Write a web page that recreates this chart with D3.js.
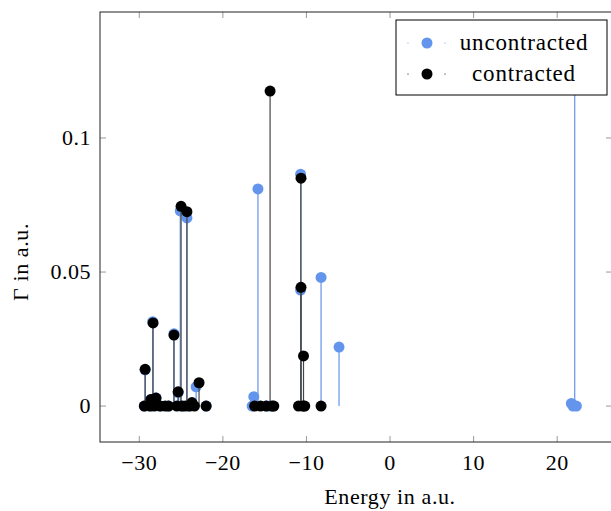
<!DOCTYPE html>
<html>
<head>
<meta charset="utf-8">
<script src="https://cdn.jsdelivr.net/npm/d3@7"></script>
<style>
  body { margin: 0; background: #fff; }
  text { font-family: "Liberation Serif", "DejaVu Serif", serif; fill: #000; }
</style>
</head>
<body>
<svg id="chart" width="611" height="511"></svg>
<script>
// uncontracted resonances: energy, width
var uncEnergy = [-29.3, -28.4, -28.6, -28.0, -29.4, -28.7, -27.5, -26.5, -25.85, -25.35, -25.1, -24.3, -23.7, -23.2, -24.9, -24.0, -22.0,
                 -16.5, -16.3, -15.8, -14.8, -14.3,
                 -10.7, -10.7, -10.4, -8.25, -6.1,
                 21.7, 21.9, 22.1, 22.3];
var uncGamma  = [0.0135, 0.0315, 0.0025, 0.003, 0, 0, 0, 0, 0.027, 0.005, 0.0728, 0.0702, 0.001, 0.0072, 0, 0, 0,
                 0, 0.0035, 0.081, 0, 0,
                 0.0865, 0.0433, 0, 0.048, 0.022,
                 0.001, 0, 0.135, 0];

// contracted resonances
var conEnergy = [-29.4, -29.3, -28.7, -28.6, -28.35, -28.2, -28.0, -27.5, -26.9, -26.5, -25.85, -25.5, -25.35, -25.0, -24.9, -24.5, -24.3, -24.0, -23.7, -23.4, -22.85, -22.0,
                 -16.2, -15.5, -14.8, -14.35, -14.1, -13.9,
                 -10.95, -10.65, -10.65, -10.35, -10.4, -10.2, -8.25];
var conGamma  = [0, 0.0137, 0, 0.0025, 0.031, 0, 0.003, 0, 0, 0, 0.0265, 0, 0.0053, 0.0745, 0, 0, 0.0725, 0, 0.0013, 0, 0.0087, 0,
                 0, 0, 0, 0.1175, 0, 0,
                 0, 0.085, 0.0443, 0.0187, 0, 0, 0];

var xTicks = [-30, -20, -10, 0, 10, 20];
var yTicks = [0, 0.05, 0.1];

(function() {
  var series = [
    { name: "uncontracted", color: "#6495ed", stem: "#6495ed", e: uncEnergy, g: uncGamma },
    { name: "contracted", color: "#000", stem: "#444", e: conEnergy, g: conGamma }
  ];

  var svg = d3.select("#chart");
  var mLeft = 100, mRight = 612, mTop = 12, mBottom = 442;

  var x = d3.scaleLinear().domain([-34.7, 26.56]).range([mLeft, mRight]);
  var y = d3.scaleLinear().domain([-0.0134, 0.147]).range([mBottom, mTop]);

  var fmtX = function(d) { return d < 0 ? "\u2212" + Math.abs(d) : d; };

  // ticks inside on all four sides
  var tickG = svg.append("g").attr("stroke", "#999").attr("stroke-width", 1);
  xTicks.forEach(function(t) {
    tickG.append("line").attr("x1", x(t)).attr("x2", x(t)).attr("y1", mBottom).attr("y2", mBottom - 6);
    tickG.append("line").attr("x1", x(t)).attr("x2", x(t)).attr("y1", mTop).attr("y2", mTop + 6);
  });
  yTicks.forEach(function(t) {
    tickG.append("line").attr("x1", mLeft).attr("x2", mLeft + 6).attr("y1", y(t)).attr("y2", y(t));
    tickG.append("line").attr("x1", mRight).attr("x2", mRight - 6).attr("y1", y(t)).attr("y2", y(t));
  });

  svg.append("g").selectAll("text").data(xTicks).enter().append("text")
    .attr("x", function(d) { return x(d); })
    .attr("y", 470)
    .attr("text-anchor", "middle")
    .attr("font-size", 22)
    .attr("letter-spacing", 0.5)
    .text(fmtX);

  svg.append("g").selectAll("text").data(yTicks).enter().append("text")
    .attr("x", 91)
    .attr("y", function(d) { return y(d) + 7; })
    .attr("text-anchor", "end")
    .attr("font-size", 22)
    .attr("letter-spacing", 0.5)
    .text(function(d) { return d; });

  svg.append("defs").append("clipPath").attr("id", "clip")
    .append("rect").attr("x", mLeft).attr("y", mTop).attr("width", mRight - mLeft).attr("height", mBottom - mTop);

  var plot = svg.append("g").attr("clip-path", "url(#clip)");

  series.forEach(function(s) {
    var pts = s.e.map(function(e, i) { return { e: e, g: s.g[i] }; });
    var g = plot.append("g");
    g.selectAll("line").data(pts).enter().append("line")
      .attr("x1", function(d) { return x(d.e); })
      .attr("x2", function(d) { return x(d.e); })
      .attr("y1", y(0))
      .attr("y2", function(d) { return y(d.g); })
      .attr("stroke", s.stem)
      .attr("stroke-width", 1.2);
    g.selectAll("circle").data(pts).enter().append("circle")
      .attr("cx", function(d) { return x(d.e); })
      .attr("cy", function(d) { return y(d.g); })
      .attr("r", 5.5)
      .attr("fill", s.color);
  });

  // frame
  svg.append("rect").attr("x", mLeft).attr("y", mTop).attr("width", mRight - mLeft).attr("height", mBottom - mTop)
    .attr("fill", "none").attr("stroke", "#222").attr("stroke-width", 1);

  // legend
  var leg = svg.append("g").attr("transform", "translate(396,20)");
  leg.append("rect").attr("width", 211).attr("height", 75).attr("fill", "#fff").attr("stroke", "#000").attr("stroke-width", 1);
  series.forEach(function(s, i) {
    var ly = 23 + i * 31;
    [12, 49].forEach(function(dx) {
      leg.append("circle").attr("cx", dx).attr("cy", ly).attr("r", 0.6).attr("fill", s.color);
    });
    leg.append("circle").attr("cx", 31).attr("cy", ly).attr("r", 5.5).attr("fill", s.color);
    leg.append("text").attr("x", 128).attr("y", ly + 7).attr("text-anchor", "middle")
      .attr("font-size", 23).attr("letter-spacing", 0.8).text(s.name);
  });

  // axis labels
  svg.append("text").attr("x", 390).attr("y", 504).attr("text-anchor", "middle")
    .attr("font-size", 22).attr("letter-spacing", 0.6).text("Energy in a.u.");
  svg.append("text").attr("transform", "translate(28,262) rotate(-90)").attr("text-anchor", "middle")
    .attr("font-size", 22).attr("letter-spacing", 0.6).text("\u0393 in a.u.");
})();
</script>
</body>
</html>
